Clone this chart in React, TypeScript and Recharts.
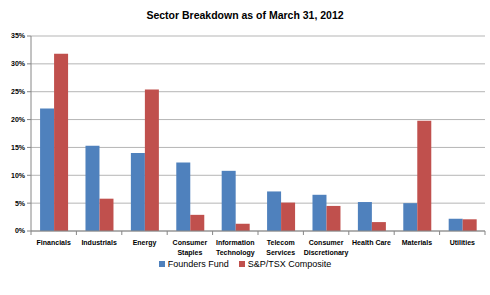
import React from "react";
import { Bar, BarChart, CartesianGrid, Legend, XAxis, YAxis } from "recharts";

const sectors = [
  "Financials",
  "Industrials",
  "Energy",
  "Consumer Staples",
  "Information Technology",
  "Telecom Services",
  "Consumer Discretionary",
  "Health Care",
  "Materials",
  "Utilities",
];
const foundersFund = [22.0, 15.3, 14.0, 12.3, 10.8, 7.1, 6.5, 5.2, 5.0, 2.2];
const tsxComposite = [31.8, 5.8, 25.4, 2.9, 1.3, 5.1, 4.5, 1.6, 19.8, 2.1];
const percentTicks = [0, 5, 10, 15, 20, 25, 30, 35];

const BLUE = "#4F81BD";
const RED = "#C0504D";
const FONT = "'Liberation Sans', Arial, sans-serif";

const data = sectors.map((name, i) => ({
  name,
  founders: foundersFund[i],
  tsx: tsxComposite[i],
}));

// category label, wrapped onto two lines when long, plus the
// small tick marks that sit on the category boundaries
const SectorTick = (props: any) => {
  const { x, y, payload, index } = props;
  const half = payload.offset ?? 0;
  const label: string = payload.value;
  const lines = label.length > 12 ? label.split(" ") : [label];
  return (
    <g>
      <line x1={x + half} x2={x + half} y1={y} y2={y + 4} stroke="#868686" />
      {index === 0 && (
        <line x1={x - half} x2={x - half} y1={y} y2={y + 4} stroke="#868686" />
      )}
      <text
        x={x}
        y={y + 14}
        textAnchor="middle"
        fontSize={7}
        fontWeight="bold"
        fontFamily={FONT}
        fill="#000"
      >
        {lines.map((ln, i) => (
          <tspan key={i} x={x} dy={i === 0 ? 0 : 10}>
            {ln}
          </tspan>
        ))}
      </text>
    </g>
  );
};

const LegendBox = () => (
  <div
    style={{
      display: "flex",
      justifyContent: "center",
      gap: 10,
      fontFamily: FONT,
      fontSize: 9,
      color: "#000",
    }}
  >
    {[
      { label: "Founders Fund", color: BLUE },
      { label: "S&P/TSX Composite", color: RED },
    ].map((item) => (
      <span key={item.label} style={{ display: "flex", alignItems: "center" }}>
        <span
          style={{
            width: 6,
            height: 6,
            background: item.color,
            marginRight: 3,
            display: "inline-block",
          }}
        />
        {item.label}
      </span>
    ))}
  </div>
);

export default function App() {
  return (
    <div
      style={{
        position: "absolute",
        left: 0,
        top: 0,
        width: 490,
        height: 295,
        background: "#fff",
      }}
    >
      <div
        style={{
          position: "absolute",
          top: 9,
          width: 490,
          textAlign: "center",
          fontFamily: FONT,
          fontWeight: "bold",
          fontSize: 10.5,
          color: "#000",
        }}
      >
        Sector Breakdown as of March 31, 2012
      </div>
      <BarChart
        width={490}
        height={295}
        data={data}
        margin={{ top: 36, right: 5, left: 0, bottom: 24 }}
        barCategoryGap="20%"
        barGap={0}
      >
        <CartesianGrid vertical={false} stroke="#b5b5b5" />
        <XAxis
          dataKey="name"
          interval={0}
          height={30}
          tickLine={false}
          tickSize={0}
          tickMargin={0}
          axisLine={{ stroke: "#868686" }}
          tick={<SectorTick />}
        />
        <YAxis
          width={31}
          domain={[0, 35]}
          ticks={percentTicks}
          tickFormatter={(v) => `${v}%`}
          tickSize={4}
          tickMargin={2}
          tickLine={{ stroke: "#868686" }}
          axisLine={{ stroke: "#868686" }}
          tick={{ fontSize: 7, fontWeight: "bold", fontFamily: FONT, fill: "#000" }}
        />
        <Legend
          verticalAlign="bottom"
          wrapperStyle={{ top: 259, left: 0, width: 490 }}
          content={<LegendBox />}
        />
        <Bar dataKey="founders" name="Founders Fund" fill={BLUE} isAnimationActive={false} />
        <Bar dataKey="tsx" name="S&P/TSX Composite" fill={RED} isAnimationActive={false} />
      </BarChart>
    </div>
  );
}
